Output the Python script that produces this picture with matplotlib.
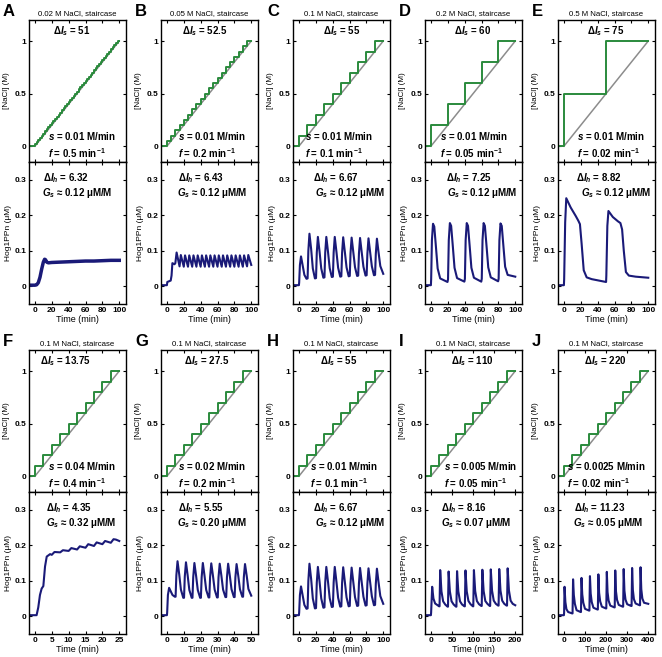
import numpy as np
import matplotlib
matplotlib.use('Agg')
import matplotlib.pyplot as plt

plt.rcParams['font.family'] = ['Liberation Sans', 'DejaVu Sans']
plt.rcParams['font.weight'] = 'bold'
plt.rcParams['mathtext.fontset'] = 'custom'
plt.rcParams['mathtext.rm'] = 'Liberation Sans:bold'
plt.rcParams['mathtext.it'] = 'Liberation Sans:bold:italic'
plt.rcParams['mathtext.bf'] = 'Liberation Sans:bold'
plt.rcParams['axes.linewidth'] = 1.0

# 数据
titles = ['0.02 M NaCl, staircase', '0.05 M NaCl, staircase', '0.1 M NaCl, staircase',
          '0.2 M NaCl, staircase', '0.5 M NaCl, staircase',
          '0.1 M NaCl, staircase', '0.1 M NaCl, staircase', '0.1 M NaCl, staircase',
          '0.1 M NaCl, staircase', '0.1 M NaCl, staircase']
letters = ['A', 'B', 'C', 'D', 'E', 'F', 'G', 'H', 'I', 'J']
step_size = [0.02, 0.05, 0.1, 0.2, 0.5, 0.1, 0.1, 0.1, 0.1, 0.1]   # M
ramp_rate = [0.01, 0.01, 0.01, 0.01, 0.01, 0.04, 0.02, 0.01, 0.005, 0.0025]  # M/min
s_txt = ['0.01', '0.01', '0.01', '0.01', '0.01', '0.04', '0.02', '0.01', '0.005', '0.0025']
f_txt = ['0.5', '0.2', '0.1', '0.05', '0.02', '0.4', '0.2', '0.1', '0.05', '0.02']
dIs = ['51', '52.5', '55', '60', '75', '13.75', '27.5', '55', '110', '220']
dIh = ['6.32', '6.43', '6.67', '7.25', '8.82', '4.35', '5.55', '6.67', '8.16', '11.23']
Gs = ['0.12', '0.12', '0.12', '0.12', '0.12', '0.32', '0.20', '0.12', '0.07', '0.05']
xticks_list = [[0, 20, 40, 60, 80, 100]] * 5 + [[0, 5, 10, 15, 20, 25], [0, 10, 20, 30, 40, 50],
               [0, 20, 40, 60, 80, 100], [0, 50, 100, 150, 200], [0, 100, 200, 300, 400]]

# Hog1PPn curves
tA = [-7, 0, 2, 4, 6, 8, 10, 11.5, 12.5, 14, 16, 20, 30, 40, 50, 60, 70, 80, 90, 100]
hA = [0.003, 0.003, 0.004, 0.01, 0.025, 0.048, 0.068, 0.076, 0.075, 0.068, 0.066, 0.067,
      0.068, 0.069, 0.07, 0.071, 0.071, 0.072, 0.073, 0.073]

tB = [-7, 0, 0.5, 4.5, 5.5, 6.5, 9, 10, 11.5,
      15, 16.5, 20, 21.5, 25, 26.5, 30, 31.5, 35, 36.5, 40, 41.5, 45, 46.5, 50, 51.5,
      55, 56.5, 60, 61.5, 65, 66.5, 70, 71.5, 75, 76.5, 80, 81.5, 85, 86.5, 90, 91.5,
      95, 96.5, 100]
hB = [0.003, 0.003, 0.012, 0.016, 0.03, 0.065, 0.062, 0.065, 0.095,
      0.056, 0.088, 0.055, 0.087, 0.055, 0.087, 0.055, 0.087, 0.055, 0.087, 0.055, 0.087,
      0.055, 0.087, 0.055, 0.087, 0.055, 0.087, 0.055, 0.087, 0.055, 0.087, 0.055, 0.087,
      0.055, 0.087, 0.055, 0.087, 0.055, 0.087, 0.055, 0.087, 0.056, 0.088, 0.06]

tC = [-7, 0, 0.3, 1.2, 2.5, 4.5, 6.5, 9,
      10.3, 11.2, 12.5, 14.5, 16.5, 19,
      20.3, 21.2, 22.5, 24.5, 26.5, 29,
      30.3, 31.2, 32.5, 34.5, 36.5, 39,
      40.3, 41.2, 42.5, 44.5, 46.5, 49,
      50.3, 51.2, 52.5, 54.5, 56.5, 59,
      60.3, 61.2, 62.5, 64.5, 66.5, 69,
      70.3, 71.2, 72.5, 74.5, 76.5, 79,
      80.3, 81.2, 82.5, 84.5, 86.5, 89,
      90.3, 91.2, 92.5, 94.5, 96.5, 100]
hC = [0.003, 0.003, 0.01, 0.06, 0.084, 0.058, 0.032, 0.021,
      0.022, 0.1, 0.148, 0.105, 0.05, 0.022,
      0.023, 0.095, 0.139, 0.097, 0.05, 0.024,
      0.025, 0.095, 0.139, 0.097, 0.051, 0.026,
      0.027, 0.095, 0.139, 0.097, 0.052, 0.027,
      0.028, 0.094, 0.138, 0.096, 0.053, 0.028,
      0.029, 0.093, 0.137, 0.096, 0.054, 0.029,
      0.03, 0.093, 0.136, 0.095, 0.055, 0.03,
      0.031, 0.092, 0.135, 0.095, 0.056, 0.031,
      0.032, 0.092, 0.134, 0.094, 0.057, 0.035]

tD = [-7, 0, 0.3, 1.2, 2.5, 4, 6, 8, 11, 19.7,
      20.3, 21.2, 22.5, 24, 26, 28, 31, 39.7,
      40.3, 41.2, 42.5, 44, 46, 48, 51, 59.7,
      60.3, 61.2, 62.5, 64, 66, 68, 71, 79.7,
      80.3, 81.2, 82.5, 84, 86, 88, 91, 100]
hD = [0.003, 0.003, 0.02, 0.13, 0.176, 0.168, 0.11, 0.05, 0.022, 0.012,
      0.02, 0.13, 0.178, 0.17, 0.112, 0.052, 0.023, 0.013,
      0.021, 0.13, 0.178, 0.17, 0.112, 0.052, 0.024, 0.013,
      0.021, 0.13, 0.178, 0.17, 0.112, 0.053, 0.025, 0.014,
      0.021, 0.13, 0.177, 0.17, 0.112, 0.055, 0.032, 0.027]

tE = [-7, 0, 0.3, 1.5, 2.8, 8, 14, 17, 19, 21, 23.5, 27, 33, 50,
      50.3, 51.5, 52.8, 58, 64, 67, 69, 71, 73.5, 77, 85, 100]
hE = [0.003, 0.003, 0.02, 0.18, 0.248, 0.222, 0.198, 0.185, 0.175, 0.12, 0.045, 0.025, 0.02, 0.012,
      0.03, 0.17, 0.212, 0.195, 0.183, 0.178, 0.16, 0.1, 0.04, 0.03, 0.027, 0.024]

tF = [-1.75, 0.5, 1.0, 1.5, 2.0, 2.5, 3.0, 3.5, 4.5, 5.0, 5.8, 7.5, 8.3, 10, 10.8,
      12.5, 13.3, 15, 15.8, 17.5, 18.3, 20, 20.8, 22.5, 23.3, 24, 25]
hF = [0.003, 0.003, 0.025, 0.06, 0.078, 0.085, 0.14, 0.168, 0.175, 0.173, 0.181, 0.18, 0.186,
      0.184, 0.192, 0.188, 0.197, 0.193, 0.203, 0.198, 0.208, 0.203, 0.212, 0.207, 0.217, 0.216, 0.212]

tG = [-3.5, 0, 0.15, 0.6, 1.3, 2.3, 3.3, 4.7,
      5.15, 5.6, 6.3, 7.3, 8.3, 9.7,
      10.15, 10.6, 11.3, 12.3, 13.3, 14.7,
      15.15, 15.6, 16.3, 17.3, 18.3, 19.7,
      20.15, 20.6, 21.3, 22.3, 23.3, 24.7,
      25.15, 25.6, 26.3, 27.3, 28.3, 29.7,
      30.15, 30.6, 31.3, 32.3, 33.3, 34.7,
      35.15, 35.6, 36.3, 37.3, 38.3, 39.7,
      40.15, 40.6, 41.3, 42.3, 43.3, 44.7,
      45.15, 45.6, 46.3, 47.3, 48.3, 50]
hG = [0.003, 0.003, 0.01, 0.06, 0.08, 0.07, 0.06, 0.055,
      0.055, 0.115, 0.155, 0.118, 0.075, 0.052,
      0.052, 0.112, 0.152, 0.115, 0.074, 0.052,
      0.052, 0.11, 0.15, 0.114, 0.074, 0.052,
      0.052, 0.11, 0.15, 0.114, 0.074, 0.053,
      0.053, 0.11, 0.149, 0.114, 0.075, 0.053,
      0.053, 0.11, 0.148, 0.114, 0.075, 0.054,
      0.054, 0.11, 0.148, 0.114, 0.076, 0.054,
      0.054, 0.11, 0.147, 0.114, 0.076, 0.055,
      0.055, 0.11, 0.147, 0.114, 0.077, 0.058]

tH = tC
hH = hC

tI = [-14, 0, 0.5, 3, 6, 10, 19.5,
      20.5, 22, 25, 29, 34, 39.5,
      40.5, 42, 45, 49, 54, 59.5,
      60.5, 62, 65, 69, 74, 79.5,
      80.5, 82, 85, 89, 94, 99.5,
      100.5, 102, 105, 109, 114, 119.5,
      120.5, 122, 125, 129, 134, 139.5,
      140.5, 142, 145, 149, 154, 159.5,
      160.5, 162, 165, 169, 174, 179.5,
      180.5, 182, 185, 189, 194, 200]
hI = [0.003, 0.003, 0.01, 0.083, 0.05, 0.036, 0.028,
      0.028, 0.13, 0.07, 0.042, 0.033, 0.027,
      0.027, 0.126, 0.07, 0.042, 0.033, 0.027,
      0.027, 0.127, 0.07, 0.042, 0.033, 0.028,
      0.028, 0.129, 0.07, 0.043, 0.034, 0.028,
      0.028, 0.13, 0.071, 0.043, 0.034, 0.029,
      0.029, 0.131, 0.071, 0.043, 0.035, 0.029,
      0.029, 0.132, 0.072, 0.044, 0.035, 0.03,
      0.03, 0.133, 0.072, 0.044, 0.035, 0.03,
      0.03, 0.135, 0.073, 0.044, 0.035, 0.031]

tJ = [-28, 0, 1, 3, 7, 12, 20, 39,
      41, 43.5, 47, 52, 60, 79,
      81, 83.5, 87, 92, 100, 119,
      121, 123.5, 127, 132, 140, 159,
      161, 163.5, 167, 172, 180, 199,
      201, 203.5, 207, 212, 220, 239,
      241, 243.5, 247, 252, 260, 279,
      281, 283.5, 287, 292, 300, 319,
      321, 323.5, 327, 332, 340, 359,
      361, 363.5, 367, 372, 380, 400]
hJ = [0.003, 0.003, 0.01, 0.083, 0.04, 0.02, 0.012, 0.008,
      0.008, 0.104, 0.06, 0.035, 0.017, 0.012,
      0.012, 0.108, 0.062, 0.038, 0.021, 0.016,
      0.016, 0.113, 0.064, 0.04, 0.024, 0.019,
      0.019, 0.118, 0.066, 0.042, 0.027, 0.022,
      0.022, 0.125, 0.068, 0.044, 0.03, 0.025,
      0.025, 0.129, 0.07, 0.046, 0.032, 0.027,
      0.027, 0.133, 0.072, 0.047, 0.034, 0.029,
      0.029, 0.136, 0.074, 0.048, 0.036, 0.031,
      0.031, 0.138, 0.076, 0.05, 0.038, 0.035]

hog_t = [tA, tB, tC, tD, tE, tF, tG, tH, tI, tJ]
hog_v = [hA, hB, hC, hD, hE, hF, hG, hH, hI, hJ]

# 布局 (像素)
W, H = 662, 657
lefts = [29, 161, 293, 425, 558]
tops = [20, 350]
aw, ah = 97, 142
x_dIs = [0.44, 0.45, 0.5, 0.49, 0.49, 0.38, 0.47, 0.47, 0.49, 0.49]
x_s = [0.2, 0.18, 0.12, 0.15, 0.2, 0.2, 0.18, 0.18, 0.2, 0.09]
x_dIh = [0.14, 0.18, 0.21, 0.22, 0.19, 0.18, 0.18, 0.21, 0.17, 0.16]
x_Gs = [0.13, 0.17, 0.23, 0.23, 0.24, 0.18, 0.17, 0.23, 0.17, 0.15]

green = '#2a8a3c'
gray = '#8c8c8c'
navy = '#1a1a78'

fig = plt.figure(figsize=(W / 100, H / 100), dpi=100)

for i in range(10):
    r, c = divmod(i, 5)
    l = lefts[c]
    t0 = tops[r]
    ax1 = fig.add_axes([l / W, 1 - (t0 + ah) / H, aw / W, ah / H])
    ax2 = fig.add_axes([l / W, 1 - (t0 + 2 * ah) / H, aw / W, ah / H])
    T = 1.0 / ramp_rate[i]
    xl = (-0.07 * T, 1.08 * T)

    # staircase input
    period = step_size[i] / ramp_rate[i]
    n = int(round(1.0 / step_size[i]))
    st_t = [xl[0]] + list(period * np.arange(n)) + [T]
    st_v = [0] + list(step_size[i] * np.arange(1, n + 1)) + [1.0]
    ax1.plot([0, T], [0, 1], color=gray, lw=1.1)
    ax1.step(st_t, st_v, where='post', color=green, lw=1.4)
    ax1.set_xlim(xl)
    ax1.set_ylim(-0.15, 1.2)
    ax1.set_yticks([0, 0.5, 1])
    ax1.set_yticklabels(['0', '0.5', '1'])
    ax1.set_xticks(xticks_list[i])
    ax1.set_xticklabels([])
    ax1.set_ylabel('[NaCl] (M)', fontsize=5.8, labelpad=3)
    ax1.text(0.5, 1.02, titles[i], transform=ax1.transAxes, ha='center', va='bottom',
             fontsize=5.6, fontweight='normal')
    ax1.text(x_dIs[i], 0.92, r'$\Delta I_s$ = ' + dIs[i], transform=ax1.transAxes,
             ha='center', va='center', fontsize=7)
    ax1.text(x_s[i], 0.18, r'$s$ = ' + s_txt[i] + ' M/min', transform=ax1.transAxes,
             ha='left', va='center', fontsize=7)
    ax1.text(x_s[i], 0.065, r'$f$ = ' + f_txt[i] + r' min$^{-1}$', transform=ax1.transAxes,
             ha='left', va='center', fontsize=7)

    # Hog1PPn response
    ax2.plot(hog_t[i], hog_v[i], color=navy, lw=1.5 if i != 0 else 2.5)
    ax2.set_xlim(xl)
    ax2.set_ylim(-0.05, 0.35)
    ax2.set_yticks([0, 0.1, 0.2, 0.3])
    ax2.set_yticklabels(['0', '0.1', '0.2', '0.3'])
    ax2.set_xticks(xticks_list[i])
    ax2.set_xticklabels([str(v) for v in xticks_list[i]])
    ax2.set_xlabel('Time (min)', fontsize=6.5, labelpad=1)
    ax2.set_ylabel('Hog1PPn (μM)', fontsize=6, labelpad=2)
    ax2.text(x_dIh[i], 0.89, r'$\Delta I_h$ = ' + dIh[i], transform=ax2.transAxes,
             ha='left', va='center', fontsize=7)
    ax2.text(x_Gs[i], 0.78, r'$G_s$ ≈ ' + Gs[i] + ' μM/M', transform=ax2.transAxes,
             ha='left', va='center', fontsize=7)

    for ax in (ax1, ax2):
        ax.tick_params(direction='in', top=True, right=True, length=2.5, width=0.8,
                       labelsize=6, pad=2)

    fig.text((l - 26) / W, 1 - (t0 - 16) / H, letters[i], fontsize=12,
             fontweight='bold', ha='left', va='top')

fig.savefig('out.png', dpi=100)
